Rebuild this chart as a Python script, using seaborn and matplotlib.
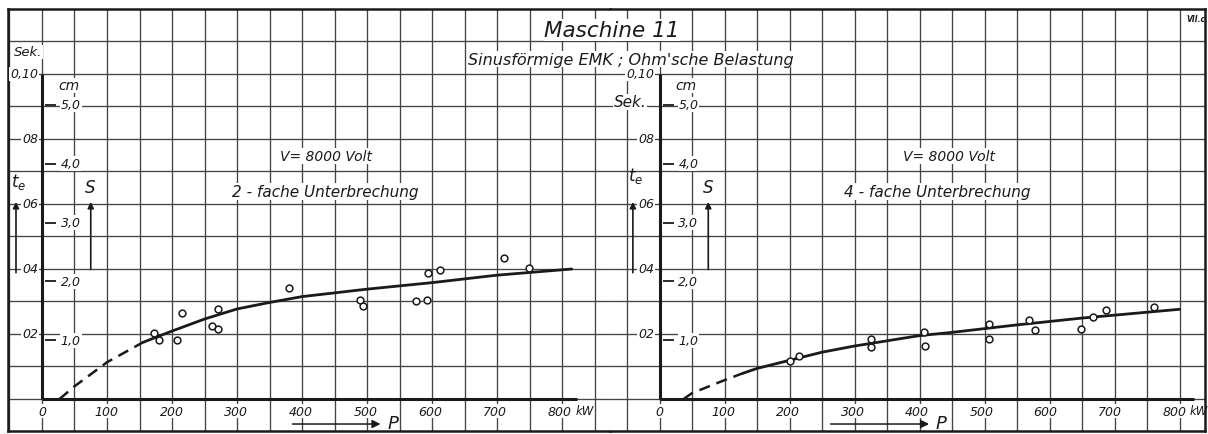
import numpy as np
import seaborn as sns
import matplotlib.pyplot as plt

# --- data (P in kW, t_e in seconds) ---
p_2fach = [172, 180, 208, 215, 261, 271, 271, 380, 489, 494, 576, 592, 594, 612, 710, 749]
t_2fach = [0.0203, 0.0183, 0.0183, 0.0264, 0.0225, 0.0216, 0.0278, 0.0341,
           0.0306, 0.0287, 0.0303, 0.0305, 0.0387, 0.0397, 0.0434, 0.0403]
curve2_dash_p = [27, 50, 100, 155]
curve2_dash_t = [0.0, 0.0039, 0.0113, 0.0174]
curve2_p = [155, 200, 250, 300, 350, 400, 500, 600, 700, 815]
curve2_t = [0.0174, 0.0209, 0.0246, 0.0277, 0.0297, 0.0315, 0.0338, 0.0358, 0.0381, 0.0400]

p_4fach = [201, 215, 325, 325, 407, 408, 507, 507, 569, 578, 649, 667, 687, 760]
t_4fach = [0.0117, 0.0133, 0.0185, 0.0161, 0.0205, 0.0162, 0.0231, 0.0185,
           0.0242, 0.0213, 0.0216, 0.0253, 0.0274, 0.0284]
curve4_dash_p = [37, 50, 100, 128]
curve4_dash_t = [0.0, 0.0018, 0.0058, 0.0079]
curve4_p = [128, 150, 200, 250, 300, 350, 400, 450, 550, 650, 750, 800]
curve4_t = [0.0079, 0.0094, 0.0119, 0.0144, 0.0163, 0.0179, 0.0195, 0.0205, 0.0228, 0.0249, 0.0267, 0.0276]

x_ticks = [0, 100, 200, 300, 400, 500, 600, 700, 800]
sek_ticks = [0.10, 0.08, 0.06, 0.04, 0.02]
sek_labels = ["0,10", "08", "06", "04", "02"]
cm_ticks = [5.0, 4.0, 3.0, 2.0, 1.0]
cm_labels = ["5,0", "4,0", "3,0", "2,0", "1,0"]
SEK_PER_CM = 0.0181

W, H = 1208, 435
sns.set_theme(style="white")
plt.rcParams["font.family"] = ["DejaVu Sans"]
plt.rcParams["mathtext.fontset"] = "dejavusans"
INK = "#1a1a1a"
GRID = "#444444"

fig = plt.figure(figsize=(W / 100, H / 100), dpi=100)
fig.patch.set_facecolor("white")

def fpos(x0, x1):
    return [x0 / W, (H - 432) / H, (x1 - x0) / W, (432 - 10) / H]

ax_l = fig.add_axes(fpos(8, 610))
ax_r = fig.add_axes(fpos(610, 1205))
ax_l.set_xlim(-52.3, 873.8)
ax_r.set_xlim(-76.2, 839.2)

for ax, side in [(ax_l, "left"), (ax_r, "right")]:
    ax.set_ylim(-0.00985, 0.12)
    ax.set_facecolor("white")
    x0, x1 = ax.get_xlim()
    gx = np.arange(-100, 1000, 50)
    ax.set_xticks(gx[(gx > x0) & (gx < x1)])
    ax.set_yticks(np.arange(0, 0.115, 0.01))
    ax.set_xticklabels([])
    ax.set_yticklabels([])
    ax.tick_params(length=0)
    ax.grid(True, color=GRID, lw=0.95)
    for s in ["top", "bottom", "left", "right"]:
        ax.spines[s].set_color(INK)
        ax.spines[s].set_linewidth(1.8)
    ax.spines["right" if side == "left" else "left"].set_visible(False)
    # axes lines
    ax.vlines(0, 0, 0.10, color=INK, lw=2.2, zorder=3)
    ax.hlines(0, 0, 823, color=INK, lw=2.2, zorder=3)

txt = dict(style="italic", color=INK)
wbox = dict(facecolor="white", edgecolor="none", pad=0.6)

def draw_panel(ax, pts_p, pts_t, dp, dt, cp, ct, sek_x, sek_pos, sek_size, te_pos,
               v_x, fach_x, fach_txt, p_arrow, kw_x, tick_shift):
    sns.lineplot(x=dp, y=dt, ax=ax, color=INK, lw=1.8, linestyle=(0, (4.5, 2.8)),
                 sort=False, estimator=None, zorder=4)
    sns.lineplot(x=cp, y=ct, ax=ax, color=INK, lw=2.0, sort=False, estimator=None, zorder=4)
    sns.scatterplot(x=pts_p, y=pts_t, ax=ax, marker="o", s=24, color="white",
                    edgecolor=INK, linewidth=1.1, zorder=5)
    # x tick labels
    for xv in x_ticks:
        ax.text(xv + tick_shift * (xv / 800), -0.0037, str(xv), ha="center", va="center",
                fontsize=9, bbox=wbox, **txt)
    ax.text(kw_x, -0.0034, "kW", ha="left", va="center", fontsize=8.5, **txt)
    # Sek scale
    for yv, lab in zip(sek_ticks, sek_labels):
        ax.text(sek_x, yv, lab, ha="right", va="center", fontsize=9, bbox=wbox, **txt)
    ax.text(sek_pos[0], sek_pos[1], "Sek.", ha="center", va="center", fontsize=sek_size,
            bbox=wbox, **txt)
    ax.text(te_pos[0], te_pos[1], r"$t_e$", ha="center", va="center", fontsize=12, color=INK)
    ax.annotate("", xy=(te_pos[0] - 4, 0.0615), xytext=(te_pos[0] - 4, 0.038),
                arrowprops=dict(arrowstyle="-|>", color=INK, lw=1.2, mutation_scale=9))
    # cm scale
    for cv, lab in zip(cm_ticks, cm_labels):
        yv = cv * SEK_PER_CM
        ax.hlines(yv, 5, 22, color=INK, lw=1.3, zorder=3)
        ax.text(29, yv, lab, ha="left", va="center", fontsize=9, bbox=wbox, **txt)
    ax.text(41, 0.0965, "cm", ha="center", va="center", fontsize=10, bbox=wbox, **txt)
    ax.text(74.5, 0.0652, "S", ha="center", va="center", fontsize=12, bbox=wbox, **txt)
    ax.annotate("", xy=(75, 0.0615), xytext=(75, 0.039),
                arrowprops=dict(arrowstyle="-|>", color=INK, lw=1.2, mutation_scale=9))
    # panel texts
    ax.text(v_x, 0.0748, "V= 8000 Volt", ha="center", va="center", fontsize=10, bbox=wbox, **txt)
    ax.text(fach_x, 0.0638, fach_txt, ha="center", va="center", fontsize=11, bbox=wbox, **txt)
    # P arrow
    ax.annotate("", xy=(p_arrow[1], -0.0077), xytext=(p_arrow[0], -0.0077),
                arrowprops=dict(arrowstyle="-|>", color=INK, lw=1.1, mutation_scale=12))
    ax.text(p_arrow[1] + 6, -0.0075, "P", ha="left", va="center", fontsize=13, **txt)
    ax.set_xlabel("")
    ax.set_ylabel("")

draw_panel(ax_l, p_2fach, t_2fach, curve2_dash_p, curve2_dash_t, curve2_p, curve2_t,
           -6, (-21.5, 0.1068), 9.5, (-36, 0.067), 437, 435, "2 - fache Unterbrechung",
           (381, 525), 821, -3)
draw_panel(ax_r, p_4fach, t_4fach, curve4_dash_p, curve4_dash_t, curve4_p, curve4_t,
           -8.5, (-45, 0.0914), 11, (-37, 0.069), 446, 427, "4 - fache Unterbrechung",
           (259, 419), 816, -8)

fig.text(612 / W, 1 - 31 / H, "Maschine 11", ha="center", va="center", fontsize=15.5,
         bbox=dict(facecolor="white", edgecolor="none", pad=0.5), **txt)
fig.text(631 / W, 1 - 60 / H, "Sinusförmige EMK ; Ohm'sche Belastung", ha="center", va="center",
         fontsize=11.5, bbox=dict(facecolor="white", edgecolor="none", pad=0.5), **txt)
fig.text(1196 / W, 1 - 20 / H, "VII.c", ha="center", va="center", fontsize=5.5,
         weight="bold", **txt)

fig.savefig("out.png", dpi=100, facecolor="white")
